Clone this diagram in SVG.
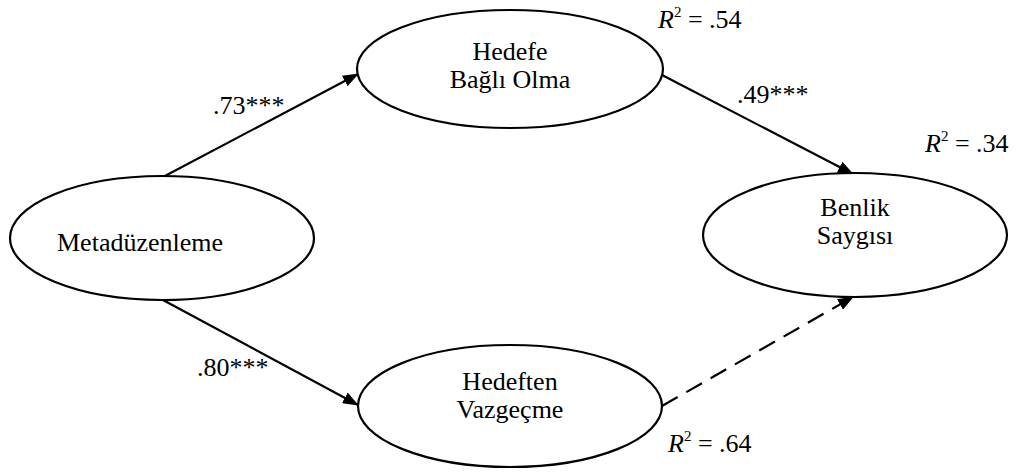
<svg xmlns="http://www.w3.org/2000/svg" width="1018" height="473" viewBox="0 0 1018 473">
<style>
.node ellipse{fill:#fff;stroke:#000;stroke-width:2.2}
text{font-family:"Liberation Serif","Times New Roman",serif;font-size:26px;fill:#000}
.c{text-anchor:middle}
.conn line{stroke:#000;stroke-width:2.2}
.dash{stroke-dasharray:18 10}
.i{font-style:italic}
</style>
<defs>
<marker id="ah" viewBox="0 0 16 12" refX="15" refY="6" markerWidth="16" markerHeight="12" markerUnits="userSpaceOnUse" orient="auto">
<path d="M0,0 L16,6 L0,12 Z" fill="#000"/>
</marker>
</defs>
<g id="connectors" class="conn">
<line x1="163" y1="177" x2="358" y2="74" marker-end="url(#ah)"/>
<line x1="163" y1="300" x2="358" y2="405" marker-end="url(#ah)"/>
<line x1="662" y1="75" x2="853" y2="174" marker-end="url(#ah)"/>
<line class="dash" x1="662" y1="406" x2="853" y2="297" marker-end="url(#ah)"/>
</g>
<g id="metaduzenleme" class="node">
<ellipse cx="162" cy="238" rx="152" ry="62"/>
<text x="57" y="251">Metadüzenleme</text>
</g>
<g id="hedefe" class="node">
<ellipse cx="510" cy="69" rx="153" ry="59"/>
<text class="c" x="510" y="60">Hedefe</text>
<text class="c" x="510" y="88">Bağlı Olma</text>
</g>
<g id="hedeften" class="node">
<ellipse cx="510" cy="406" rx="152" ry="61"/>
<text class="c" x="510" y="390">Hedeften</text>
<text class="c" x="510" y="418">Vazgeçme</text>
</g>
<g id="benlik" class="node">
<ellipse cx="855" cy="235" rx="152" ry="62"/>
<text class="c" x="855" y="216">Benlik</text>
<text class="c" x="855" y="244">Saygısı</text>
</g>
<g id="labels">
<text x="213" y="114">.73***</text>
<text x="197" y="376">.80***</text>
<text x="737" y="103">.49***</text>
<text x="658" y="28"><tspan class="i">R</tspan><tspan font-size="15" dy="-11">2</tspan><tspan dy="11"> = .54</tspan></text>
<text x="925" y="152"><tspan class="i">R</tspan><tspan font-size="15" dy="-11">2</tspan><tspan dy="11"> = .34</tspan></text>
<text x="668" y="452"><tspan class="i">R</tspan><tspan font-size="15" dy="-11">2</tspan><tspan dy="11"> = .64</tspan></text>
</g>
</svg>
